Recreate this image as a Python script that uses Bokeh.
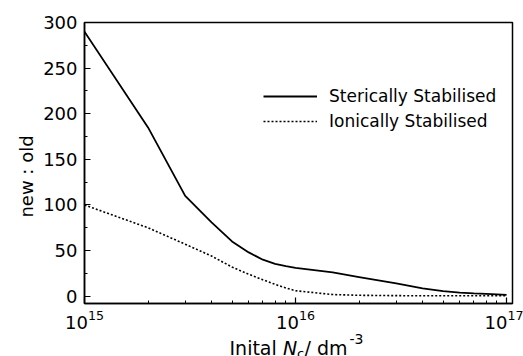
import math
from bokeh.plotting import figure
from bokeh.layouts import column
from bokeh.models import Range1d, FixedTicker, SingleIntervalTicker, Label, LogTickFormatter
from bokeh.embed import file_html
from bokeh.resources import INLINE

# ---- data ----
conc = [1e15, 2e15, 3e15, 4e15, 5e15, 6e15, 7e15, 8e15, 9e15, 1e16,
        1.5e16, 2e16, 3e16, 4e16, 5e16, 6e16, 7e16, 8e16, 9e16, 1e17]
steric = [290, 185, 110, 81, 60, 48, 40, 35.5, 33, 31,
          26, 21, 14, 8.5, 5.5, 4, 3, 2.5, 2, 1.5]
ionic = [100, 75, 57, 44, 32, 24, 18, 13, 9, 6,
         1.8, 1.0, 0.6, 0.5, 0.5, 0.5, 0.5, 0.5, 0.5, 0.5]
steric_name = "Sterically Stabilised"
ionic_name = "Ionically Stabilised"
major_x = [1e15, 1e16, 1e17]
minor_x = [m * 10 ** e for e in (15, 16) for m in range(2, 10)]
y_label = "new : old"

FONT = "DejaVu Sans"
W, H = 523, 356
FL, FR = 84, 512   # frame left / right in page pixels

p = figure(width=W, height=H, x_axis_type="log",
           x_range=Range1d(1e15, 10 ** 17.028), y_range=Range1d(-8, 300),
           output_backend="svg", toolbar_location=None,
           min_border_left=FL, min_border_right=W - FR,
           min_border_top=22, min_border_bottom=53)
p.grid.visible = False
p.outline_line_color = "black"
p.outline_line_width = 1.5
p.background_fill_color = "white"
p.border_fill_color = "white"

p.line(conc, steric, line_color="black", line_width=1.8, legend_label=steric_name)
p.line(conc, ionic, line_color="black", line_width=1.6, line_dash="2 2",
       legend_label=ionic_name)

# axes
xa = p.xaxis[0]
xa.ticker = FixedTicker(ticks=major_x, minor_ticks=minor_x)
xa.formatter = LogTickFormatter()
ya = p.yaxis[0]
ya.ticker = SingleIntervalTicker(interval=50, num_minor_ticks=2)
for ax in (xa, ya):
    ax.axis_line_color = "black"
    ax.axis_line_width = 1.5
    ax.major_tick_in = 6
    ax.major_tick_out = 0
    ax.minor_tick_in = 3
    ax.minor_tick_out = 0
    ax.major_tick_line_width = 1.2
    ax.minor_tick_line_width = 1.0
    ax.major_label_text_font = FONT
    ax.major_label_text_font_size = "18px"
    ax.major_label_text_color = "black"
xa.major_label_standoff = 6
ya.major_label_standoff = 7

# legend
lg = p.legend[0]
lg.location = (179, 172)
lg.border_line_alpha = 0
lg.background_fill_alpha = 0
lg.padding = 0
lg.margin = 0
lg.spacing = 5
lg.label_height = 20
lg.glyph_height = 20
lg.glyph_width = 54
lg.label_standoff = 12
lg.label_text_font = FONT
lg.label_text_font_size = "17px"
lg.label_text_color = "black"

# transparent overlay figure for the axis titles (mixed italic/sub/superscript)
ov = figure(width=W, height=H, y_range=Range1d(H, 0),
            output_backend="svg", toolbar_location=None,
            x_axis_location=None, y_axis_location=None,
            min_border=0, min_border_left=0, min_border_right=0,
            min_border_top=0, min_border_bottom=0)
can_unalign = "frame_align" in ov.properties()
if can_unalign:
    ov.frame_align = False
    p.frame_align = False
    ov.x_range = Range1d(0, W)
else:
    ov.x_range = Range1d(FL, FR)
ov.grid.visible = False
ov.outline_line_color = None
ov.background_fill_alpha = 0
ov.border_fill_alpha = 0
ov.margin = (-H, 0, 0, 0)


def add_text(txt, x, y, size="19px", style="normal", angle=0.0, align="left",
             baseline="alphabetic"):
    ov.add_layout(Label(x=x, y=y, text=txt,
                        text_font=FONT, text_font_size=size, text_font_style=style,
                        text_color="black", angle=angle, text_align=align,
                        text_baseline=baseline))


add_text("Inital", 229, 347)
add_text("N", 282.5, 347, style="italic")
add_text("c", 296.5, 353, size="13px")
add_text("/ dm", 304, 347)
add_text("-3", 349, 338, size="14px")
if can_unalign:
    add_text(y_label, 26, 176, size="18px", angle=math.pi / 2, align="center",
             baseline="middle")
else:
    ya.axis_label = y_label
    ya.axis_label_text_font = FONT
    ya.axis_label_text_font_size = "18px"
    ya.axis_label_text_font_style = "normal"
    ya.axis_label_standoff = 6

layout = column(p, ov, spacing=0)
open("out.html", "w").write(file_html(layout, INLINE))
